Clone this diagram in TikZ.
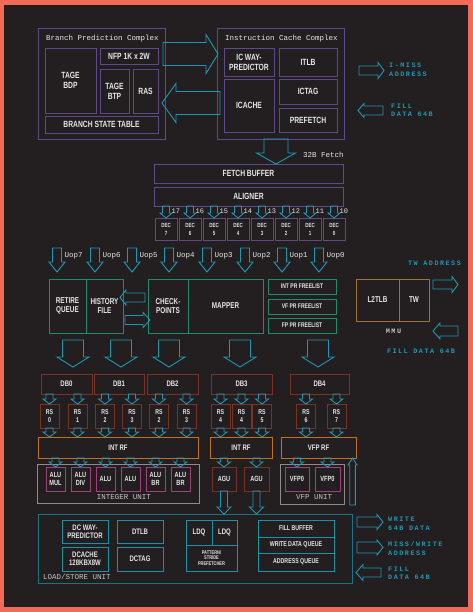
\documentclass[tikz,border=0pt]{standalone}
\usepackage{fontspec}
\usetikzlibrary{calc}
\newfontfamily\boxf[FakeStretch=0.75]{Liberation Sans}
\newfontfamily\monof{Liberation Mono}
\newfontfamily\spacedf[LetterSpace=22]{Liberation Mono}
\definecolor{bgc}{HTML}{231F20}
\definecolor{edgec}{HTML}{F26A58}
\definecolor{purp}{HTML}{5E4A86}
\definecolor{cyanc}{HTML}{1C98B2}
\definecolor{grn}{HTML}{1E8C6C}
\definecolor{brn}{HTML}{7A3426}
\definecolor{orng}{HTML}{C0701F}
\definecolor{pnk}{HTML}{A3417D}
\definecolor{gry}{HTML}{8C8C8C}
\definecolor{tealc}{HTML}{1D7284}
\definecolor{ltealc}{HTML}{1C90A8}
\definecolor{tanc}{HTML}{A0703A}
\definecolor{txt}{HTML}{E6E6E6}
\definecolor{gtxt}{HTML}{C4C4C4}
\tikzset{
  bx/.style={draw, line width=0.8pt, inner sep=0pt, outer sep=0pt, text=txt, align=center, font=\boxf\bfseries\fontsize{9}{10}\selectfont},
  sz/.style 2 args={minimum width=#1pt, minimum height=#2pt},
  fatline/.style={draw=cyanc, line width=0.9pt, line join=miter},
  lbl/.style={text=cyanc, font=\spacedf\bfseries\fontsize{6.8}{8.5}\selectfont, align=left, inner sep=0pt, anchor=west},
  ttl/.style={text=txt, font=\monof\fontsize{7.5}{8}\selectfont, inner sep=0pt},
  gttl/.style={text=gtxt, font=\monof\fontsize{7.5}{8}\selectfont, inner sep=0pt},
  fs/.style={font=\boxf\bfseries\fontsize{#1}{#1}\selectfont},
}
% fat block arrow: from, to, shaft half width, head half width, head length
\newcommand\fatarr[5]{%
  \draw[fatline] ($(#1)!#3!90:(#2)$) -- ($(#2)!#5!(#1)!#3!-90:(#1)$) -- ($(#2)!#5!(#1)!#4!-90:(#1)$) -- (#2) -- ($(#2)!#5!(#1)!#4!90:(#1)$) -- ($(#2)!#5!(#1)!#3!90:(#1)$) -- ($(#1)!#3!-90:(#2)$) -- cycle;}
\begin{document}
\begin{tikzpicture}[x=1pt,y=-1pt]
\fill[edgec] (0,0) rectangle (473,612);
\fill[bgc] (4,5) rectangle (468,607);
\useasboundingbox (0,0) rectangle (473,612);

% ---------- Branch prediction complex
\node[bx, draw=purp, sz={127}{111}] (bp) at (101.5,83.5) {};
\node[ttl, anchor=west] (bpt) at (46,39) {Branch Prediction Complex};
\node[bx, draw=purp, sz={51}{65}] (bdp) at (70.5,80.5) {TAGE\\BDP};
\node[bx, draw=purp, sz={58}{16}] (nfp) at (129,56) {NFP 1K x 2W};
\node[bx, draw=purp, sz={29}{44}] (btp) at (114.5,91) {TAGE\\BTP};
\node[bx, draw=purp, sz={25}{44}] (ras) at (145.5,91) {RAS};
\node[bx, draw=purp, sz={113}{17}] (bst) at (101.5,124.5) {BRANCH STATE TABLE};

% ---------- Instruction cache complex
\node[bx, draw=purp, sz={127}{111}] (ic) at (280.5,83.5) {};
\node[ttl, anchor=west] (ict) at (225,39) {Instruction Cache Complex};
\node[bx, draw=purp, sz={50}{28}] (icway) at (249,62) {IC WAY-\\PREDICTOR};
\node[bx, draw=purp, sz={58}{28}] (itlb) at (308,62) {ITLB};
\node[bx, draw=purp, sz={50}{53}] (icache) at (249,105.5) {ICACHE};
\node[bx, draw=purp, sz={58}{25}] (ictag) at (308,91.5) {ICTAG};
\node[bx, draw=purp, sz={58}{24}] (pref) at (308,120) {PREFETCH};

\coordinate (bpr) at ($(bp.east)+(-2,-29.5)$);
\coordinate (icl) at ($(ic.west)+(1,-29.5)$);
\fatarr{bpr}{icl}{11.5pt}{19.5pt}{12pt}
\coordinate (icl2) at ($(ic.west)+(3,19.5)$);
\coordinate (bpr2) at ($(bp.east)+(-3,19.5)$);
\fatarr{icl2}{bpr2}{11.5pt}{19.5pt}{14pt}

\coordinate (ima) at (359,70.5); \coordinate (imb) at (384,70.5);
\fatarr{ima}{imb}{4.5pt}{8pt}{6pt}
\node[lbl] (imt) at (389,70) {I-MISS\\ADDRESS};
\coordinate (ifa) at (383,110.5); \coordinate (ifb) at (358,110.5);
\fatarr{ifa}{ifb}{4.5pt}{7pt}{6pt}
\node[lbl] (ift) at (391,110.5) {FILL\\DATA 64B};

% ---------- Fetch
\node[bx, draw=purp, sz={189}{19}] (fbuf) at (248.5,173.5) {FETCH BUFFER};
\node[bx, draw=purp, sz={189}{19}] (align) at (248.5,196.5) {ALIGNER};
\coordinate (fa) at ($(ic.south)+(-4.5,0)$);
\coordinate (fb) at ($(fbuf.north)+(27.5,0)$);
\fatarr{fa}{fb}{12pt}{19.5pt}{11pt}
\node[ttl, anchor=west] (f32) at (303,155) {32B Fetch};

\foreach \i/\k in {7/0,6/1,5/2,4/3,3/4,2/5,1/6,0/7}{
  \node[bx, draw=purp, sz={22}{22}, font=\boxf\bfseries\fontsize{6}{8}\selectfont] (dec\i) at (166+24*\k,229) {DEC\\\i};
  \coordinate (al\i) at (align.south -| dec\i.north);
  \fatarr{al\i}{dec\i.north}{3.5pt}{6pt}{5pt}
  \node[ttl, anchor=west, font=\monof\fontsize{7}{8}\selectfont] (dn\i) at (166+24*\k+5.5,211) {1\i};
}

% ---------- Uops
\foreach \i/\x in {7/57,6/95,5/132,4/169,3/207,2/245,1/282,0/319}{
  \coordinate (ua\i) at (\x,248); \coordinate (ub\i) at (\x,272);
  \fatarr{ua\i}{ub\i}{4.5pt}{8pt}{10pt}
  \node[ttl, anchor=west] (ul\i) at (\x+7.5,256) {Uop\i};
}

% ---------- Rename
\node[bx, draw=grn, sz={37}{54}, fs=8.5] (retire) at (67.5,306) {RETIRE\\QUEUE};
\node[bx, draw=grn, sz={37}{54}, fs=8.5] (hist) at (104.5,306) {HISTORY\\FILE};
\node[bx, draw=grn, sz={40}{54}, fs=8.5] (chk) at (168,306) {CHECK-\\POINTS};
\node[bx, draw=grn, sz={75}{54}, fs=8.5] (mapper) at (225.5,306) {MAPPER};
\node[bx, draw=grn, sz={68}{15}, fs=6.7] (intfl) at (302,286.5) {INT PR FREELIST};
\node[bx, draw=grn, sz={68}{15}, fs=6.7] (vffl) at (302,306.5) {VF PR FREELIST};
\node[bx, draw=grn, sz={68}{15}, fs=6.7] (fpfl) at (302,325.5) {FP PR FREELIST};
\coordinate (ca) at ($(chk.west)+(-3,-8.5)$); \coordinate (hb) at ($(hist.east)+(-3,-8.5)$);
\fatarr{ca}{hb}{4.5pt}{7.5pt}{6pt}
\coordinate (ha) at ($(hist.east)+(2,14)$); \coordinate (cb) at ($(chk.west)+(2,14)$);
\fatarr{ha}{cb}{4.5pt}{7.5pt}{7pt}

% ---------- MMU
\node[bx, draw=tanc, sz={43}{42}, fs=8.5] (l2tlb) at (377.5,300) {L2TLB};
\node[bx, draw=tanc, sz={30}{42}, fs=8.5] (tw) at (414,300) {TW};
\node[gttl, font=\spacedf\bfseries\fontsize{6.8}{8}\selectfont] (mmu) at (393.5,331) {MMU};
\node[lbl, anchor=center] (twt) at (434.5,263) {TW ADDRESS};
\coordinate (twa) at (433,284.5); \coordinate (twb) at (458,284.5);
\fatarr{twa}{twb}{4.5pt}{8pt}{6pt}
\coordinate (mfa) at (458,331); \coordinate (mfb) at (433,331);
\fatarr{mfa}{mfb}{5pt}{8pt}{7pt}
\node[lbl, anchor=center] (mft) at (421,351) {FILL DATA 64B};

% ---------- big arrows to dispatch
\foreach \x [count=\n] in {73,121,169,240,318}{
  \coordinate (ba\n) at (\x,340); \coordinate (bb\n) at (\x,367);
  \fatarr{ba\n}{bb\n}{10.5pt}{16pt}{10pt}
}

% ---------- Dispatch buffers
\node[bx, draw=brn, sz={51}{20}, fs=8] (db0) at (66.5,384) {DB0};
\node[bx, draw=brn, sz={50}{20}, fs=8] (db1) at (119,384) {DB1};
\node[bx, draw=brn, sz={51}{20}, fs=8] (db2) at (172.5,384) {DB2};
\node[bx, draw=brn, sz={61}{20}, fs=8] (db3) at (241.5,384) {DB3};
\node[bx, draw=brn, sz={59}{20}, fs=8] (db4) at (319.5,384) {DB4};

% ---------- Register files
\node[bx, draw=orng, sz={160}{21}, fs=8] (irf) at (118,447.5) {INT RF};
\node[bx, draw=orng, sz={62}{21}, fs=8] (arf) at (241,447.5) {INT RF};
\node[bx, draw=orng, sz={75}{21}, fs=8] (vrf) at (318.5,447.5) {VFP RF};

% ---------- Reservation stations
\foreach \n/\x/\t/\d/\r in {rsa/49.5/0/db0/irf, rsb/77.5/1/db0/irf, rsc/105/2/db1/irf, rsd/132/3/db1/irf, rse/159/2/db2/irf, rsf/186.5/3/db2/irf, rsg/220.5/4/db3/arf, rsh/241.5/4/db3/arf, rsi/262/5/db3/arf, rsj/306/6/db4/vrf, rsk/336.5/7/db4/vrf}{
  \node[bx, draw=brn, sz={19}{24}, font=\boxf\bfseries\fontsize{7}{8}\selectfont] (\n) at (\x,416) {RS\\\t};
  \coordinate (\n-t) at (\d.south -| \n.north);
  \fatarr{\n-t}{\n.north}{3.5pt}{6.5pt}{5pt}
  \coordinate (\n-r) at (\r.north -| \n.south);
  \fatarr{\n.south}{\n-r}{3.5pt}{6.5pt}{5pt}
}

% ---------- Execution units
\node[bx, draw=gry, sz={162}{39}] (iu) at (118,483.5) {};
\node[gttl] (iut) at (124,497) {INTEGER UNIT};
\node[bx, draw=gry, sz={64}{40}] (vu) at (312,484) {};
\node[gttl] (vut) at (314,497.5) {VFP UNIT};
\foreach \n/\x/\t/\r/\c/\w in {alua/55.5/ALU\\MUL/irf/pnk/19, alub/80.5/ALU\\DIV/irf/pnk/19, aluc/105.5/ALU/irf/pnk/19, alud/130.5/ALU/irf/pnk/19, alue/155.5/ALU\\BR/irf/pnk/19, aluf/180.5/ALU\\BR/irf/pnk/19, agua/224/AGU/arf/brn/24, agub/256.5/AGU/arf/brn/25, vfpa/297/VFP0/vrf/pnk/24, vfpb/327.5/VFP0/vrf/pnk/25}{
  \node[bx, draw=\c, sz={\w}{24}, font=\boxf\bfseries\fontsize{7.5}{7.5}\selectfont] (\n) at (\x,479) {\t};
  \coordinate (\n-t) at (\r.south -| \n.north);
  \fatarr{\n-t}{\n.north}{3.5pt}{6.5pt}{5pt}
}
\coordinate (vup) at (352.5,505);
\coordinate (vupt) at (vrf.south -| vup);
\fatarr{vup}{vupt}{2.8pt}{4.5pt}{7pt}

% ---------- Load / store unit
\node[bx, draw=tealc, sz={314}{69}] (ls) at (195,548.5) {};
\node[gttl, anchor=west] (lst) at (43,577) {LOAD/STORE UNIT};
\node[bx, draw=ltealc, sz={46}{23}, fs=8] (dcway) at (85,531.5) {DC WAY-\\PREDICTOR};
\node[bx, draw=ltealc, sz={46}{24}, fs=8] (dcache) at (85,559) {DCACHE\\128KBX8W};
\node[bx, draw=ltealc, sz={46}{23}, fs=8] (dtlb) at (140,531.5) {DTLB};
\node[bx, draw=ltealc, sz={46}{24}, fs=8] (dctag) at (140,559) {DCTAG};
\node[bx, draw=ltealc, sz={26}{25}, fs=8] (ldqa) at (199,532.5) {LDQ};
\node[bx, draw=ltealc, sz={25}{25}, fs=8] (ldqb) at (224.5,532.5) {LDQ};
\node[bx, draw=ltealc, sz={51}{26}, font=\boxf\bfseries\fontsize{5.3}{5.6}\selectfont] (patt) at (211.5,558) {PATTERN/\\STRIDE\\PREFETCHER};
\node[bx, draw=ltealc, sz={76}{17}, fs=7] (fillb) at (296,528.5) {FILL BUFFER};
\node[bx, draw=ltealc, sz={76}{16}, fs=7] (wdq) at (296,545) {WRITE DATA QUEUE};
\node[bx, draw=ltealc, sz={76}{18}, fs=7] (aq) at (296,562) {ADDRESS QUEUE};
\foreach \n in {agua,agub}{
  \coordinate (\n-b) at (ls.north -| \n.south);
  \fatarr{\n.south}{\n-b}{3.5pt}{7pt}{7pt}
}
\coordinate (wra) at (357,522); \coordinate (wrb) at (383,522);
\fatarr{wra}{wrb}{5pt}{7.5pt}{6pt}
\node[lbl] (wrt) at (388,524) {WRITE\\64B DATA};
\coordinate (mwa) at (357,547.5); \coordinate (mwb) at (383,547.5);
\fatarr{mwa}{mwb}{5.5pt}{7.5pt}{6pt}
\node[lbl] (mwt) at (388,548.5) {MISS/WRITE\\ADDRESS};
\coordinate (lfa) at (381,572.5); \coordinate (lfb) at (356,572.5);
\fatarr{lfa}{lfb}{4.5pt}{8pt}{7pt}
\node[lbl] (lft) at (388,573.5) {FILL\\DATA 64B};
\end{tikzpicture}
\end{document}
